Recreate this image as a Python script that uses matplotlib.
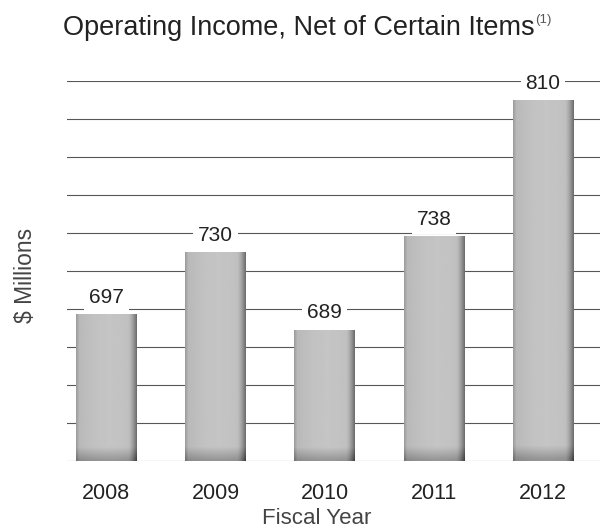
import numpy as np
import matplotlib.pyplot as plt

years = ["2008", "2009", "2010", "2011", "2012"]
income = [697, 730, 689, 738, 810]

plt.rcParams["font.family"] = ["Liberation Sans", "DejaVu Sans"]
text_color = "#222222"
label_color = "#444444"

fig = plt.figure(figsize=(6.04, 5.31), dpi=100)
ax = fig.add_axes([0.111, 0.132, 0.882, 0.715])

base = 620
ax.set_ylim(base, 820)
ax.set_xlim(-0.36, 4.52)

# gridlines
for yv in range(620, 821, 20):
    ax.axhline(yv, color="#575757", lw=0.8, zorder=1)

# shaded bars
width = 0.555
nx, ny = 60, 80
gx = np.linspace(0, 1, nx)
horiz = 0.72 + 0.05 * np.sin(np.pi * gx * 0.9) - 0.30 * np.clip((gx - 0.86) / 0.14, 0, 1) ** 1.5
horiz -= 0.10 * np.clip((0.05 - gx) / 0.05, 0, 1)
for i, v in enumerate(income):
    h = v - base
    gy = np.linspace(0, h, ny)
    bottom = 0.18 * np.clip((7 - gy) / 7, 0, 1)
    shade = horiz[None, :] - bottom[:, None]
    ax.imshow(shade, cmap="gray", vmin=0, vmax=1, origin="lower",
              extent=(i - width / 2, i + width / 2, base, v),
              aspect="auto", interpolation="bilinear", zorder=2)
    ax.text(i, v + 9, str(v), ha="center", va="center", fontsize=15,
            color=text_color, zorder=3,
            bbox=dict(facecolor="white", edgecolor="none", pad=3.5))

ax.set_xticks(range(len(years)))
ax.set_xticklabels(years, fontsize=15.5, color=text_color)
ax.tick_params(axis="x", length=0, pad=16)
ax.set_yticks([])
for s in ax.spines.values():
    s.set_visible(False)

fig.text(317 / 604, 1 - 519 / 531, "Fiscal Year", ha="center", va="center",
         fontsize=16, color=label_color)
fig.text(25.5 / 604, 1 - 275 / 531, "$ Millions", ha="center", va="center",
         rotation=90, fontsize=16.5, color=label_color)

title = fig.text(63 / 604, 1 - 35 / 531, "Operating Income, Net of Certain Items",
                 ha="left", va="baseline", fontsize=19.5, color=text_color)
ax.annotate("(1)", xy=(1, 1), xycoords=title, xytext=(0.5, 1),
            textcoords="offset points", fontsize=9.5, color="#555555",
            ha="left", va="top")

fig.savefig("out.png", dpi=100)
